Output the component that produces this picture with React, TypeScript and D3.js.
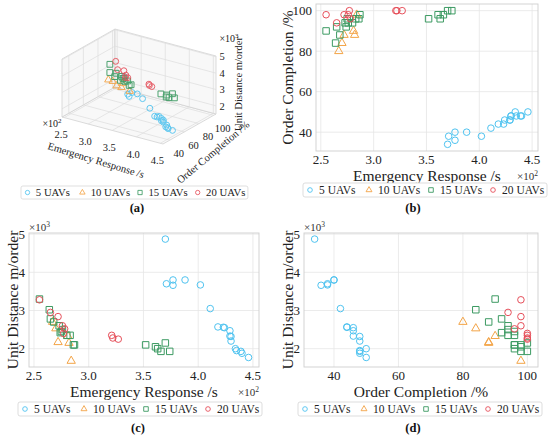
import * as d3 from "d3";

// Series meta
const SERIES = ["5 UAVs", "10 UAVs", "15 UAVs", "20 UAVs"];
const COLORS = ["#4fc3f0", "#f3a447", "#3c9a62", "#e64f5a"];
const SHAPES = [d3.symbolCircle, d3.symbolTriangle, d3.symbolSquare, d3.symbolCircle];

// Emergency response (x10^2 s), order completion (%), unit distance (x10^3 m/order)
const er5 = [3.70, 3.71, 3.77, 3.77, 3.88, 4.02, 4.11, 4.18, 4.23, 4.24, 4.29, 4.29, 4.30, 4.30, 4.34, 4.35, 4.39, 4.40, 4.46];
const oc5 = [34, 38, 36, 40, 40, 38, 42, 44, 44, 46, 46, 46, 48, 48, 50, 48, 48, 48, 50];
const ud5 = [4.87, 3.70, 3.66, 3.80, 3.80, 3.67, 3.05, 2.57, 2.56, 2.55, 2.47, 2.33, 2.32, 2.20, 2.00, 1.95, 1.93, 1.88, 1.77];

const er10 = [2.67, 2.70, 2.72, 2.82, 2.81, 2.84];
const oc10 = [80, 84, 88, 88, 90, 98];
const ud10 = [2.70, 2.53, 2.17, 2.15, 2.33, 1.68];

const er15 = [2.55, 2.64, 2.65, 2.68, 2.73, 2.74, 2.75, 2.76, 2.80, 2.83, 2.86, 2.87, 3.52, 3.61, 3.63, 3.66, 3.70, 3.74];
const oc15 = [90, 84, 92, 88, 94, 92, 96, 94, 94, 96, 96, 98, 96, 98, 96, 98, 100, 100];
const ud15 = [3.30, 3.02, 2.78, 2.70, 2.60, 2.42, 2.45, 2.50, 2.35, 2.35, 2.10, 2.10, 2.10, 2.05, 2.00, 1.93, 2.15, 1.93];

const er20 = [2.55, 2.65, 2.72, 2.76, 2.78, 2.77, 3.21, 3.22, 3.27];
const oc20 = [98, 94, 98, 98, 96, 100, 100, 100, 100];
const ud20 = [3.28, 2.95, 2.84, 2.60, 2.52, 2.40, 2.35, 2.28, 2.25];

const ER_TICKS = [2.5, 3.0, 3.5, 4.0, 4.5];
const OC_TICKS = [40, 60, 80, 100];
const UD_TICKS = [2, 3, 4, 5];

type Pt = { er: number; oc: number; ud: number };
type Key = keyof Pt;

const DATA: Pt[][] = [
  [er5, oc5, ud5],
  [er10, oc10, ud10],
  [er15, oc15, ud15],
  [er20, oc20, ud20],
].map(([er, oc, ud]) => er.map((v, i) => ({ er: v, oc: oc[i], ud: ud[i] })));

const ALL = DATA.flat();

// matplotlib-like 5% autoscale margin
function padded(key: Key): [number, number] {
  const [lo, hi] = d3.extent(ALL, (d) => d[key]) as [number, number];
  const m = (hi - lo) * 0.05;
  return [lo - m, hi + m];
}

const FONT = "'Liberation Serif', 'Times New Roman', serif";
const GRID = "#e6e6e6";
const FRAME = "#cfcfcf";

function marker(i: number, size: number) {
  const base = [34, 30, 42, 34][i];
  return d3.symbol(SHAPES[i], base * size)() ?? "";
}

const fmt1 = d3.format(".1f");
const fmt0 = d3.format("d");

interface PanelProps {
  frame: { left: number; right: number; top: number; bottom: number };
  xKey: Key;
  yKey: Key;
  xTicks: number[];
  yTicks: number[];
  xFmt: (v: number) => string;
  xLabel: string;
  yLabel: string;
  yLabelX: number;
  xExp?: string;
  yExp?: string;
}

function Panel2D({ frame, xKey, yKey, xTicks, yTicks, xFmt, xLabel, yLabel, yLabelX, xExp, yExp }: PanelProps) {
  const x = d3.scaleLinear().domain(padded(xKey)).range([frame.left, frame.right]);
  const y = d3.scaleLinear().domain(padded(yKey)).range([frame.bottom, frame.top]);
  const cx = (frame.left + frame.right) / 2;
  const cy = (frame.top + frame.bottom) / 2;
  return (
    <g>
      {xTicks.map((t) => (
        <line key={"gx" + t} x1={x(t)} x2={x(t)} y1={frame.top} y2={frame.bottom} stroke={GRID} strokeWidth={0.8} />
      ))}
      {yTicks.map((t) => (
        <line key={"gy" + t} x1={frame.left} x2={frame.right} y1={y(t)} y2={y(t)} stroke={GRID} strokeWidth={0.8} />
      ))}
      <rect x={frame.left} y={frame.top} width={frame.right - frame.left} height={frame.bottom - frame.top} fill="none" stroke={FRAME} strokeWidth={0.9} />
      {DATA.map((pts, si) => (
        <g key={si} fill="none" stroke={COLORS[si]} strokeWidth={1}>
          {pts.map((d, i) => (
            <path key={i} d={marker(si, 1)} transform={`translate(${x(d[xKey])},${y(d[yKey])})`} />
          ))}
        </g>
      ))}
      {xTicks.map((t) => (
        <text key={"tx" + t} x={x(t)} y={frame.bottom + 13} fontSize={13} textAnchor="middle" fill="#222">
          {xFmt(t)}
        </text>
      ))}
      {yTicks.map((t) => (
        <text key={"ty" + t} x={frame.left - 4} y={y(t)} dy="0.35em" fontSize={13} textAnchor="end" fill="#222">
          {fmt0(t)}
        </text>
      ))}
      <text x={cx} y={frame.bottom + 30} fontSize={15.5} textAnchor="middle" fill="#222">
        {xLabel}
      </text>
      {xExp && (
        <text x={frame.right} y={frame.bottom + 29} fontSize={11} textAnchor="end" fill="#333">
          ×10<tspan dy="-4" fontSize={7.5}>{xExp}</tspan>
        </text>
      )}
      {yExp && (
        <text x={frame.left} y={frame.top - 2} fontSize={11} fill="#333">
          ×10<tspan dy="-4" fontSize={7.5}>{yExp}</tspan>
        </text>
      )}
      <text
        transform={`translate(${yLabelX},${cy}) rotate(-90)`}
        fontSize={15.5}
        textAnchor="middle"
        dy="0.35em"
        fill="#222"
      >
        {yLabel}
      </text>
    </g>
  );
}

// 3D box: screen position of corner (min,min,min) and screen vectors of full x/y/z extents
const O3 = [62, 117];
const EX = [101, 27];
const EY = [53, -30];
const EZ = [0, -58];

function Panel3D() {
  const xs = d3.scaleLinear().domain(padded("er")).range([0, 1]);
  const ys = d3.scaleLinear().domain(padded("oc")).range([0, 1]);
  const zs = d3.scaleLinear().domain([1.5, 5.05]).range([0, 1]);
  const pn = (u: number, v: number, w: number): [number, number] => [
    O3[0] + EX[0] * u + EY[0] * v + EZ[0] * w,
    O3[1] + EX[1] * u + EY[1] * v + EZ[1] * w,
  ];
  const p = (d: Pt) => pn(xs(d.er), ys(d.oc), zs(d.ud));
  const poly = (pts: [number, number][]) => "M" + pts.map((q) => q.join(",")).join("L") + "Z";
  const seg = (a: [number, number], b: [number, number], k: string) => (
    <line key={k} x1={a[0]} y1={a[1]} x2={b[0]} y2={b[1]} stroke="#dcdcdc" strokeWidth={0.7} />
  );
  const panes = [
    [pn(0, 0, 0), pn(1, 0, 0), pn(1, 1, 0), pn(0, 1, 0)],
    [pn(0, 0, 0), pn(0, 1, 0), pn(0, 1, 1), pn(0, 0, 1)],
    [pn(0, 1, 0), pn(1, 1, 0), pn(1, 1, 1), pn(0, 1, 1)],
  ];
  return (
    <g>
      {panes.map((q, i) => (
        <path key={i} d={poly(q)} fill="#f8f8f8" stroke="#d2d2d2" strokeWidth={0.8} />
      ))}
      {ER_TICKS.map((t) => [
        seg(pn(xs(t), 0, 0), pn(xs(t), 1, 0), "fx" + t),
        seg(pn(xs(t), 1, 0), pn(xs(t), 1, 1), "bx" + t),
      ])}
      {OC_TICKS.map((t) => [
        seg(pn(0, ys(t), 0), pn(1, ys(t), 0), "fy" + t),
        seg(pn(0, ys(t), 0), pn(0, ys(t), 1), "ly" + t),
      ])}
      {UD_TICKS.map((t) => [
        seg(pn(0, 0, zs(t)), pn(0, 1, zs(t)), "lz" + t),
        seg(pn(0, 1, zs(t)), pn(1, 1, zs(t)), "bz" + t),
      ])}
      {DATA.map((pts, si) => (
        <g key={si} fill="none" stroke={COLORS[si]} strokeWidth={1} opacity={0.9}>
          {pts.map((d, i) => {
            const [sx, sy] = p(d);
            return <path key={i} d={marker(si, 0.8)} transform={`translate(${sx},${sy})`} />;
          })}
        </g>
      ))}
      <g fontSize={10.5} fill="#222" textAnchor="middle">
        {ER_TICKS.map((t) => {
          const [sx, sy] = pn(xs(t), 0, 0);
          return (
            <text key={t} x={sx - 3} y={sy + 17} dy="0.35em">
              {fmt1(t)}
            </text>
          );
        })}
        {OC_TICKS.map((t) => {
          const [sx, sy] = pn(1, ys(t), 0);
          return (
            <text key={t} x={sx + 9} y={sy + 13} dy="0.35em">
              {fmt0(t)}
            </text>
          );
        })}
        {UD_TICKS.map((t) => {
          const [sx, sy] = pn(1, 1, zs(t));
          return (
            <text key={t} x={sx + 6} y={sy} dy="0.35em">
              {fmt0(t)}
            </text>
          );
        })}
        <text x={52} y={123} dy="0.35em" fontSize={10}>
          ×10<tspan dy="-4" fontSize={7}>2</tspan>
        </text>
        <text x={229} y={38} dy="0.35em" fontSize={10}>
          ×10<tspan dy="-4" fontSize={7}>3</tspan>
        </text>
        <text transform="translate(96,160) rotate(17)" dy="0.35em">
          Emergency Response /s
        </text>
        <text transform="translate(213,152) rotate(-40)" dy="0.35em">
          Order Completion /%
        </text>
        <text transform="translate(238,84) rotate(-90)" dy="0.35em">
          Unit Distance m/order
        </text>
      </g>
    </g>
  );
}

const LEG_OFFSETS = [7, 66, 128, 190];

function Legend({ x, y, scale = 1 }: { x: number; y: number; scale?: number }) {
  return (
    <g transform={`translate(${x},${y}) scale(${scale})`}>
      <rect x={0} y={0} width={244} height={14} rx={2} fill="#fff" stroke="#d4d4d4" strokeWidth={0.8} />
      {SERIES.map((s, i) => (
        <g key={s} transform={`translate(${LEG_OFFSETS[i]},7)`}>
          <path d={marker(i, 0.5)} fill="none" stroke={COLORS[i]} strokeWidth={0.9} />
          <text x={9} y={0} dy="0.35em" fontSize={11.5} fill="#222">
            {s}
          </text>
        </g>
      ))}
    </g>
  );
}

function Caption({ x, y, text }: { x: number; y: number; text: string }) {
  return (
    <text x={x} y={y} fontSize={12.5} fontWeight="bold" textAnchor="middle" fill="#111">
      {text}
    </text>
  );
}

export default function App() {
  return (
    <svg
      width={550}
      height={440}
      style={{ position: "absolute", left: 0, top: 0, background: "#fff", fontFamily: FONT }}
    >
      <Panel3D />
      <Legend x={21} y={186} scale={0.93} />
      <Caption x={137} y={212} text="(a)" />

      <Panel2D
        frame={{ left: 316, right: 538, top: 4, bottom: 151 }}
        xKey="er"
        yKey="oc"
        xTicks={ER_TICKS}
        yTicks={OC_TICKS}
        xFmt={fmt1}
        xLabel="Emergency Response /s"
        yLabel="Order Completion /%"
        yLabelX={288}
        xExp="2"
      />
      <Legend x={303} y={183} />
      <Caption x={413} y={212} text="(b)" />

      <Panel2D
        frame={{ left: 29, right: 259, top: 233, bottom: 367 }}
        xKey="er"
        yKey="ud"
        xTicks={ER_TICKS}
        yTicks={UD_TICKS}
        xFmt={fmt1}
        xLabel="Emergency Response /s"
        yLabel="Unit Distance m/order"
        yLabelX={13}
        xExp="2"
        yExp="3"
      />
      <Legend x={18} y={402} />
      <Caption x={138} y={432} text="(c)" />

      <Panel2D
        frame={{ left: 304, right: 538, top: 233, bottom: 367 }}
        xKey="oc"
        yKey="ud"
        xTicks={OC_TICKS}
        yTicks={UD_TICKS}
        xFmt={fmt0}
        xLabel="Order Completion /%"
        yLabel="Unit Distance m/order"
        yLabelX={288}
        yExp="3"
      />
      <Legend x={298} y={402} />
      <Caption x={413} y={432} text="(d)" />
    </svg>
  );
}
